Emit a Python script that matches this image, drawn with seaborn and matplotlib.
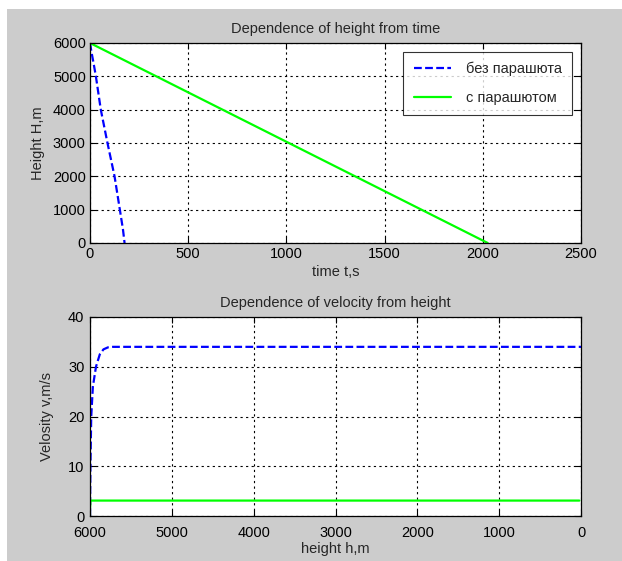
import matplotlib
matplotlib.use("Agg")
import matplotlib.pyplot as plt
from matplotlib.patches import Rectangle
import seaborn as sns
import pandas as pd

# --- data ---
t_free = [0, 4, 10, 18, 30, 55, 89, 125, 152, 168, 176]
H_free = [6000, 5850, 5650, 5400, 5000, 4000, 3000, 2000, 1000, 400, 0]
t_para = [0, 2025]
H_para = [6000, 0]

h_free = [6000, 5998, 5995, 5985, 5965, 5927, 5880, 5835, 5780, 5720, 3000, 0]
v_free = [0, 5, 10, 20, 26, 30, 32.5, 33.5, 33.9, 34, 34, 34]
h_para = [6000, 6000, 5995, 20]
v_para = [0, 3.1, 3.1, 3.1]

labels = ["без парашюта", "с парашютом"]
top_xticks = [0, 500, 1000, 1500, 2000, 2500]
top_yticks = [0, 1000, 2000, 3000, 4000, 5000, 6000]
bot_xticks = [6000, 5000, 4000, 3000, 2000, 1000, 0]
bot_yticks = [0, 10, 20, 30, 40]

sns.set_theme(style="white")
plt.rcParams["font.family"] = ["Liberation Sans", "DejaVu Sans"]
plt.rcParams["font.size"] = 10

fig = plt.figure(figsize=(6.22, 5.61), dpi=100, facecolor="white")
fig.patches.append(Rectangle((7 / 622, 0), 1 - 7 / 622, 1 - 9 / 561,
                             transform=fig.transFigure, facecolor="#cccccc",
                             edgecolor="none", zorder=-10))

W, Hh = 622, 561
def pos(l, t, r, b):
    return [l / W, 1 - b / Hh, (r - l) / W, (b - t) / Hh]

ax1 = fig.add_axes(pos(90, 43, 581, 243))
ax2 = fig.add_axes(pos(90, 317, 581, 516))

df1 = pd.DataFrame({"t": t_free, "H": H_free})
df2 = pd.DataFrame({"t": t_para, "H": H_para})
sns.lineplot(data=df1, x="t", y="H", ax=ax1, color="#0000ff", lw=1.6,
             linestyle=(0, (3.5, 1.5)), sort=False, label=labels[0])
sns.lineplot(data=df2, x="t", y="H", ax=ax1, color="#00ff00", lw=1.6,
             sort=False, label=labels[1])

df3 = pd.DataFrame({"h": h_free, "v": v_free})
df4 = pd.DataFrame({"h": h_para, "v": v_para})
sns.lineplot(data=df3, x="h", y="v", ax=ax2, color="#0000ff", lw=1.6,
             linestyle=(0, (3.5, 1.5)), sort=False, legend=False)
sns.lineplot(data=df4, x="h", y="v", ax=ax2, color="#00ff00", lw=1.6,
             sort=False, legend=False)

ax1.set_xlim(0, 2500)
ax1.set_ylim(0, 6000)
ax1.set_xticks(top_xticks)
ax1.set_yticks(top_yticks)
ax1.set_title("Dependence of height from time", fontsize=10.5, pad=7)
ax1.set_xlabel("time t,s", fontsize=10.5, labelpad=3)
ax1.set_ylabel("Height H,m", fontsize=10.5, labelpad=6)

ax2.set_xlim(6000, 0)
ax2.set_ylim(0, 40)
ax2.set_xticks(bot_xticks)
ax2.set_yticks(bot_yticks)
ax2.set_title("Dependence of velocity from height", fontsize=10.5, pad=7)
ax2.set_xlabel("height h,m", fontsize=10.5, labelpad=2)
ax2.set_ylabel("Velosity v,m/s", fontsize=10.5, labelpad=10)

for ax in (ax1, ax2):
    ax.set_facecolor("white")
    ax.grid(True, color="black", linestyle=(0, (2, 3)), linewidth=0.8)
    ax.set_axisbelow(True)
    for s in ax.spines.values():
        s.set_color("black")
        s.set_linewidth(0.9)
        s.set_visible(True)
    ax.tick_params(direction="in", length=4, width=0.8, colors="black",
                   labelsize=10.5, top=True, right=True, bottom=True, left=True,
                   pad=3)
ax2.tick_params(axis="x", pad=7)
ax2.tick_params(axis="y", pad=4)

leg = ax1.legend(loc="upper right", frameon=True, fancybox=False,
                 edgecolor="black", fontsize=10.5, borderaxespad=0.6,
                 handlelength=2.6, labelspacing=1.0, borderpad=0.7,
                 handletextpad=1.0)
leg.get_frame().set_linewidth(0.8)

fig.savefig("out.png", dpi=100, facecolor=fig.get_facecolor())
